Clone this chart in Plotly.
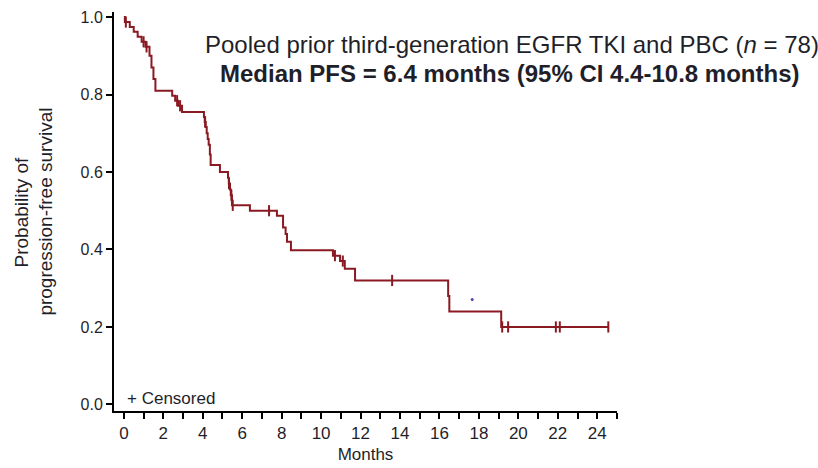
import plotly.graph_objects as go

# Kaplan-Meier steps: time (months) at which survival drops, and survival after the drop
step_months = [0.05, 0.3, 0.5, 0.7, 0.9, 1.1, 1.3, 1.4, 1.5, 1.6,
               2.45, 2.6, 2.75, 2.95,
               4.06, 4.1, 4.15, 4.2, 4.25, 4.3, 4.36, 4.4,
               4.87, 5.28, 5.32, 5.38, 5.42, 5.48,
               6.39, 7.76, 8.07, 8.2, 8.27, 8.47,
               10.6, 10.96, 11.2, 11.72,
               16.44, 16.5, 19.13]
step_surv = [0.987, 0.974, 0.962, 0.949, 0.936, 0.923, 0.90, 0.87, 0.84, 0.81,
             0.797, 0.784, 0.771, 0.755,
             0.742, 0.729, 0.716, 0.70, 0.685, 0.67, 0.645, 0.618,
             0.60, 0.585, 0.57, 0.555, 0.54, 0.514,
             0.50, 0.487, 0.457, 0.44, 0.42, 0.398,
             0.384, 0.37, 0.35, 0.32,
             0.28, 0.24, 0.20]

# Censored observations
censor_months = [0.1, 1.0, 1.15, 2.7, 2.85, 4.12, 5.33, 5.45, 5.52, 7.36,
                 10.7, 11.1, 13.6, 19.18, 19.48, 21.9, 22.1, 24.56]
censor_surv = [0.987, 0.936, 0.923, 0.784, 0.771, 0.729, 0.57, 0.54, 0.514, 0.50,
               0.384, 0.37, 0.32, 0.20, 0.20, 0.20, 0.20, 0.20]

# Stray point
dot_month = [17.66]
dot_surv = [0.271]

x_ticks = list(range(0, 25, 2))
y_ticks = [0.0, 0.2, 0.4, 0.6, 0.8, 1.0]
y_title_lines = ["Probability of", "progression-free survival"]

curve_color = "#8a1a22"
text_color = "#1f1f2a"
font_family = "Liberation Sans, Arial, sans-serif"

# Build the step path from the origin through each drop to the last follow-up time
xs = [0.0] + step_months + [censor_months[-1]]
ys = [1.0] + step_surv + [step_surv[-1]]

fig = go.Figure()
fig.add_trace(go.Scatter(
    x=xs, y=ys, mode="lines", line=dict(color=curve_color, width=2, shape="hv"),
    hoverinfo="skip", showlegend=False))
fig.add_trace(go.Scatter(
    x=censor_months, y=censor_surv, mode="markers",
    marker=dict(symbol="line-ns", size=8, line=dict(color=curve_color, width=2)),
    showlegend=False))
fig.add_trace(go.Scatter(
    x=dot_month, y=dot_surv, mode="markers",
    marker=dict(symbol="circle", size=3, color="#4a4ab0"),
    showlegend=False))

fig.add_annotation(
    x=4.0, y=0.928, xref="x", yref="y", xanchor="left", yanchor="middle",
    text="Pooled prior third-generation EGFR TKI and PBC (<i>n</i> = 78)",
    showarrow=False, font=dict(family=font_family, size=24, color=text_color))
fig.add_annotation(
    x=4.77, y=0.855, xref="x", yref="y", xanchor="left", yanchor="middle",
    text="<b>Median PFS = 6.4 months (95% CI 4.4-10.8 months)</b>",
    showarrow=False, font=dict(family=font_family, size=24, color=text_color))
fig.add_annotation(
    x=0.05, y=0.016, xref="x", yref="y", xanchor="left", yanchor="middle",
    text="+ Censored", showarrow=False,
    font=dict(family=font_family, size=17, color=text_color))

# Two-line rotated y-axis title, each line centred on the plot height
for line_text, x_pos in zip(y_title_lines, [-0.183, -0.137]):
    fig.add_annotation(
        x=x_pos, y=0.5, xref="paper", yref="paper", xanchor="center", yanchor="middle",
        text=line_text, textangle=-90, showarrow=False,
        font=dict(family=font_family, size=19, color=text_color))

fig.update_layout(
    width=818, height=468,
    margin=dict(l=114, r=201, t=12, b=57),
    paper_bgcolor="white", plot_bgcolor="white",
    font=dict(family=font_family, color=text_color),
)
fig.update_xaxes(
    range=[-0.5, 25], tickvals=x_ticks, ticktext=[str(v) for v in x_ticks],
    automargin=False,
    showgrid=False, zeroline=False, showline=True, linecolor="black", linewidth=2,
    ticks="outside", ticklen=6, tickwidth=1.5, tickcolor="black",
    minor=dict(dtick=1, tick0=0, ticks="outside", ticklen=6, tickwidth=1.5, tickcolor="black"),
    tickfont=dict(size=17, color=text_color),
    title=dict(text="Months", font=dict(size=17, color=text_color), standoff=6),
)
fig.update_yaxes(
    range=[-0.017, 1.013], tickvals=y_ticks, ticktext=[f"{v:.1f}" for v in y_ticks],
    automargin=False,
    showgrid=False, zeroline=False, showline=True, linecolor="black", linewidth=2,
    ticks="outside", ticklen=6, tickwidth=1.5, tickcolor="black",
    tickfont=dict(size=16, color=text_color),
)

fig.write_html("out.html")
